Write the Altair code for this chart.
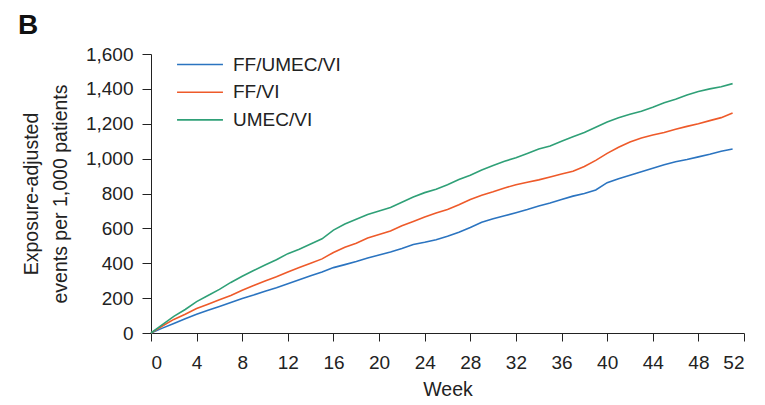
import altair as alt
import pandas as pd

weeks = list(range(0, 52))
ff_umec_vi = [0, 28, 55, 82, 108, 130, 152, 175, 198, 218, 240, 260, 282, 305, 328, 350,
              375, 392, 410, 430, 447, 465, 485, 508, 520, 535, 555, 578, 605, 635, 655, 672,
              690, 708, 728, 745, 765, 785, 800, 820, 862, 885, 905, 925, 945, 965, 982, 995,
              1010, 1025, 1042, 1055]
ff_vi = [0, 40, 78, 108, 140, 165, 190, 215, 245, 272, 298, 322, 350, 375, 400, 425,
         462, 492, 515, 545, 565, 585, 615, 640, 665, 688, 708, 735, 765, 790, 810, 832,
         850, 865, 878, 895, 912, 928, 955, 990, 1030, 1065, 1095, 1118, 1135, 1150, 1168, 1185,
         1200, 1218, 1235, 1262]
umec_vi = [0, 48, 95, 135, 180, 215, 250, 290, 325, 358, 390, 420, 455, 480, 510, 540,
           590, 625, 652, 680, 700, 720, 750, 780, 805, 825, 850, 880, 905, 935, 960, 985,
           1005, 1030, 1055, 1072, 1100, 1125, 1150, 1180, 1210, 1235, 1255, 1272, 1295, 1320, 1340, 1365,
           1385, 1400, 1412, 1430]

series_names = ["FF/UMEC/VI", "FF/VI", "UMEC/VI"]
series_colors = ["#2b74c0", "#ee5a2a", "#2fa077"]
x_ticks = list(range(0, 53, 4))
y_ticks = list(range(0, 1601, 200))

rows = []
for name, vals in zip(series_names, [ff_umec_vi, ff_vi, umec_vi]):
    for w, v in zip(weeks, vals):
        rows.append({"week": w, "value": v, "treatment": name})
df = pd.DataFrame(rows)

FONT = "Liberation Sans"
INK = "#222"

chart = alt.Chart(df).mark_line(strokeWidth=1.6).encode(
    x=alt.X("week:Q",
            scale=alt.Scale(domain=[0, 52], nice=False, zero=False),
            axis=alt.Axis(values=x_ticks, title="Week", grid=False, tickSize=8,
                          labelPadding=12, titlePadding=8, labelFontSize=19,
                          titleFontSize=19.5, titleFontWeight="normal",
                          domainColor=INK, tickColor=INK, labelColor=INK,
                          titleColor=INK, labelFont=FONT, titleFont=FONT)),
    y=alt.Y("value:Q",
            scale=alt.Scale(domain=[0, 1600], nice=False),
            axis=alt.Axis(values=y_ticks, format=",d",
                          title=["Exposure-adjusted", "events per 1,000 patients"],
                          grid=False, tickSize=9, labelPadding=9,
                          labelFontSize=19, titleFontSize=19.5, titleFontWeight="normal",
                          titleLineHeight=29, titleX=-114, titleBaseline="alphabetic",
                          domainColor=INK, tickColor=INK, labelColor=INK,
                          titleColor=INK, labelFont=FONT, titleFont=FONT)),
    color=alt.Color("treatment:N",
                    scale=alt.Scale(domain=series_names, range=series_colors),
                    legend=alt.Legend(title=None, orient="none", legendX=39.5, legendY=1,
                                      symbolType="M-2.7,0H2.7", symbolSize=289,
                                      symbolStrokeWidth=1.6,
                                      rowPadding=7.7, labelOffset=23.5, padding=0,
                                      labelFontSize=19, labelFont=FONT, labelColor=INK)),
).properties(
    width=593,
    height=279,
    autosize=alt.AutoSizeParams(type="none"),
    padding={"left": 151, "top": 54, "right": 21, "bottom": 72},
    title=alt.TitleParams("B", anchor="start", frame="group", fontSize=28, fontWeight="bold",
                          font=FONT, color="#111", dx=-133, offset=5),
).configure_view(stroke=None)

chart.save("out.html", embed_options={"renderer": "svg", "actions": False})
